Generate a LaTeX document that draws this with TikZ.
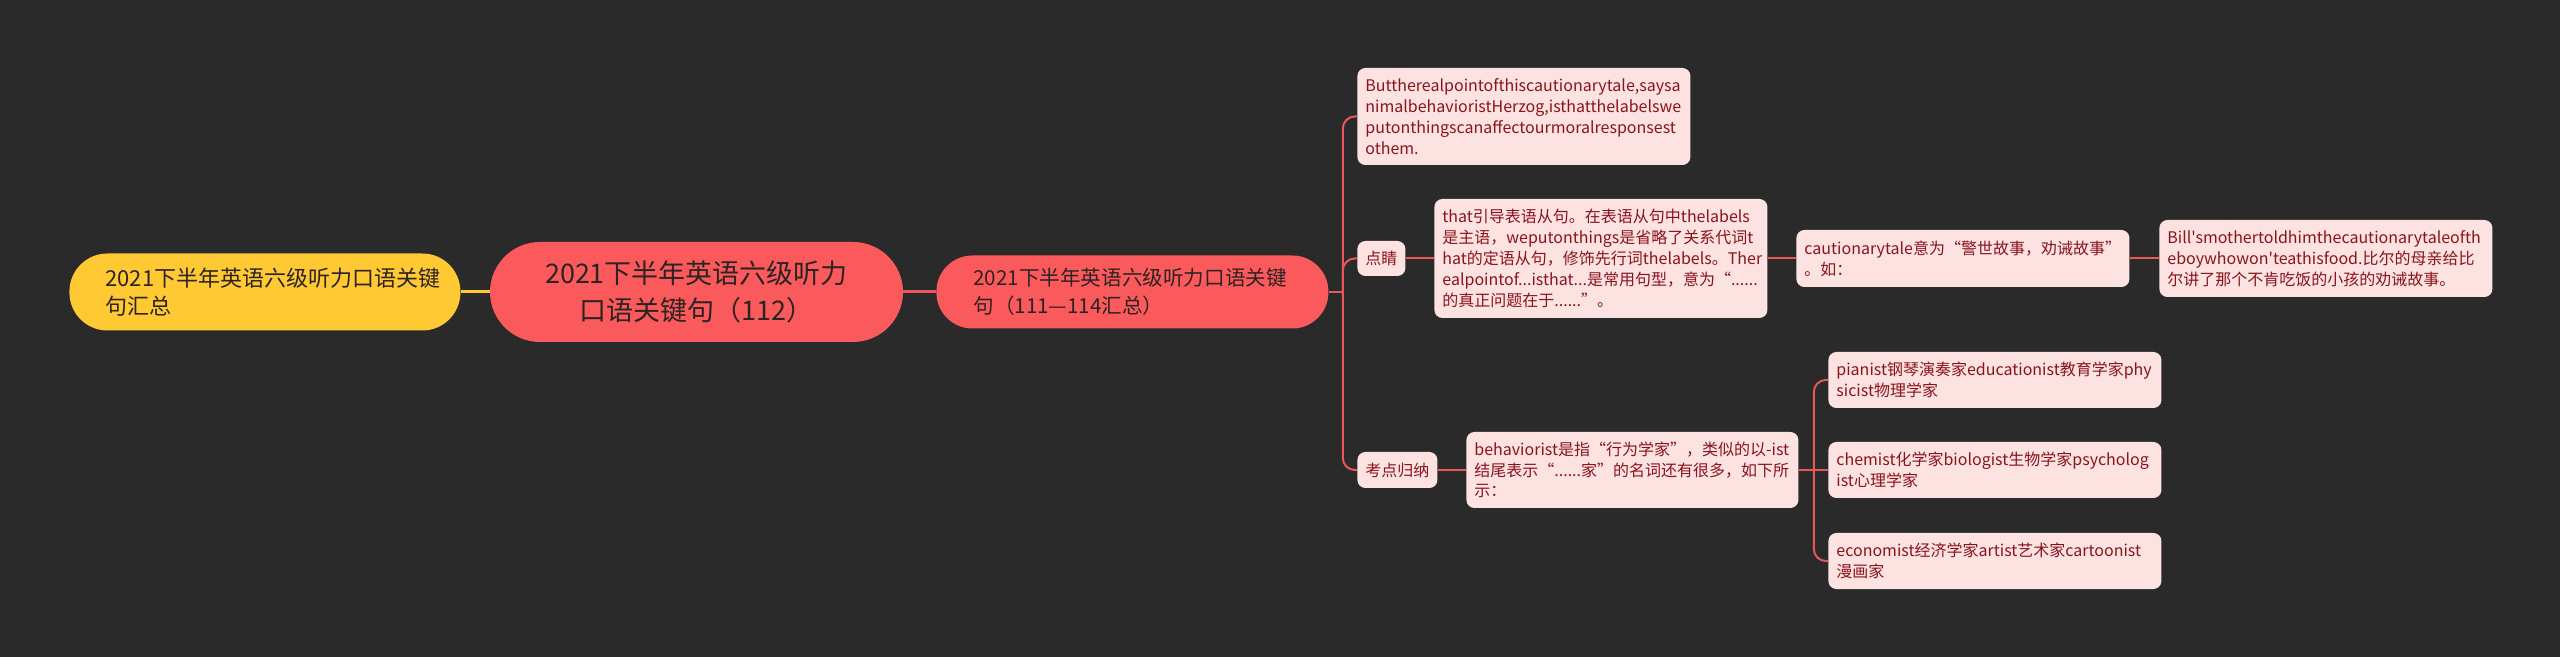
\documentclass[tikz,border=0pt]{standalone}
\usepackage{fontspec}
\setmainfont{Noto Sans CJK SC}[Ligatures=TeXOff]

\definecolor{bgdark}{RGB}{42,42,42}
\definecolor{rootred}{RGB}{250,90,92}
\definecolor{sumyellow}{RGB}{255,201,51}
\definecolor{leafbg}{RGB}{253,226,226}
\definecolor{leafred}{RGB}{138,20,28}
\definecolor{linkred}{RGB}{232,88,90}
\definecolor{inkdark}{RGB}{45,35,35}

\tikzset{
  leaf/.style={fill=leafbg, text=leafred, rounded corners=4pt, anchor=west,
    align=left, inner xsep=4pt, inner ysep=0pt,
    font=\fontsize{8pt}{10.4pt}\selectfont},
  tag/.style={leaf, align=center},
  bignode/.style={fill=#1, text=inkdark, inner ysep=0pt},
  link/.style={draw=linkred, line width=1pt},
  mainlink/.style={draw=#1, line width=1.5pt},
}

\begin{document}
\begin{tikzpicture}[x=0.5pt, y=-0.5pt]
    % 背景
    \fill[bgdark] (0,0) rectangle (2560,657);

    % 左侧汇总
    \node[bignode=sumyellow, anchor=west, align=left, rounded corners=19pt,
      inner xsep=18pt, text width=159.5pt, minimum height=38.5pt,
      font=\fontsize{11pt}{14pt}\selectfont] (summary) at (69,292)
      {2021下半年英语六级听力口语关键\\句汇总};

    % 根节点
    \node[bignode=rootred, align=center, rounded corners=25pt,
      minimum width=206.5pt, minimum height=50pt,
      font=\fontsize{13.5pt}{18.5pt}\selectfont] (root) at (696.5,292)
      {2021下半年英语六级听力\\口语关键句（112）};

    % 子主题
    \node[bignode=rootred, anchor=west, align=left, rounded corners=18pt,
      inner xsep=18.5pt, text width=159pt, minimum height=36.5pt,
      font=\fontsize{10.3pt}{14pt}\selectfont] (sub) at (936,292)
      {2021下半年英语六级听力口语关键\\句（111—114汇总）};

    % 第一层分支
    \node[leaf, text width=158.5pt, minimum height=48.5pt] (story) at (1357,116.5)
      {Buttherealpointofthiscautionarytale,saysa\\
       nimalbehavioristHerzog,isthatthelabelswe\\
       putonthingscanaffectourmoralresponsest\\
       othem.};
    \node[tag, minimum width=23.5pt, minimum height=17.5pt] (dianjing) at (1357,258.5) {点睛};
    \node[tag, minimum width=40pt, minimum height=18pt] (kaodian) at (1357,470) {考点归纳};

    % 点睛
    \node[leaf, text width=158.5pt, minimum height=59.5pt] (clause) at (1434,258.5)
      {that引导表语从句。在表语从句中thelabels\\
       是主语，weputonthings是省略了关系代词t\\
       hat的定语从句，修饰先行词thelabels。Ther\\
       ealpointof...isthat...是常用句型，意为“......\\
       的真正问题在于......”。};
    \node[leaf, text width=158.5pt, minimum height=28.5pt] (tale) at (1796,258.5)
      {cautionarytale意为“警世故事，劝诫故事”\\
       。如：};
    \node[leaf, text width=158.5pt, minimum height=38.5pt] (bill) at (2159,258.5)
      {Bill'smothertoldhimthecautionarytaleofth\\
       eboywhowon'teathisfood.比尔的母亲给比\\
       尔讲了那个不肯吃饭的小孩的劝诫故事。};

    % 考点归纳
    \node[leaf, text width=158pt, minimum height=38pt] (behav) at (1466,470)
      {behaviorist是指“行为学家”，类似的以-ist\\
       结尾表示“......家”的名词还有很多，如下所\\
       示：};
    \node[leaf, text width=158.5pt, minimum height=28pt] (pianist) at (1828,380)
      {pianist钢琴演奏家educationist教育学家phy\\
       sicist物理学家};
    \node[leaf, text width=158.5pt, minimum height=28pt] (chemist) at (1828,470)
      {chemist化学家biologist生物学家psycholog\\
       ist心理学家};
    \node[leaf, text width=158.5pt, minimum height=28pt] (economist) at (1828,561)
      {economist经济学家artist艺术家cartoonist\\
       漫画家};

    % 连线
    \draw[mainlink=sumyellow] (summary.east) -- (root.west);
    \draw[mainlink=linkred] (root.east) -- (sub.west);

    \coordinate (fork) at ([xshift=7pt]sub.east);
    \draw[link] (sub.east) -- (fork);
    \draw[link, rounded corners=6pt] (fork) |- (story.west);
    \draw[link, rounded corners=6pt] (fork) |- (dianjing.west);
    \draw[link, rounded corners=6pt] (fork) |- (kaodian.west);

    \draw[link] (dianjing.east) -- (clause.west);
    \draw[link] (clause.east) -- (tale.west);
    \draw[link] (tale.east) -- (bill.west);

    \draw[link] (kaodian.east) -- (behav.west);
    \coordinate (fork2) at ([xshift=7.5pt]behav.east);
    \draw[link] (behav.east) -- (fork2);
    \draw[link, rounded corners=6pt] (fork2) |- (pianist.west);
    \draw[link] (fork2) -- (chemist.west);
    \draw[link, rounded corners=6pt] (fork2) |- (economist.west);
\end{tikzpicture}
\end{document}
